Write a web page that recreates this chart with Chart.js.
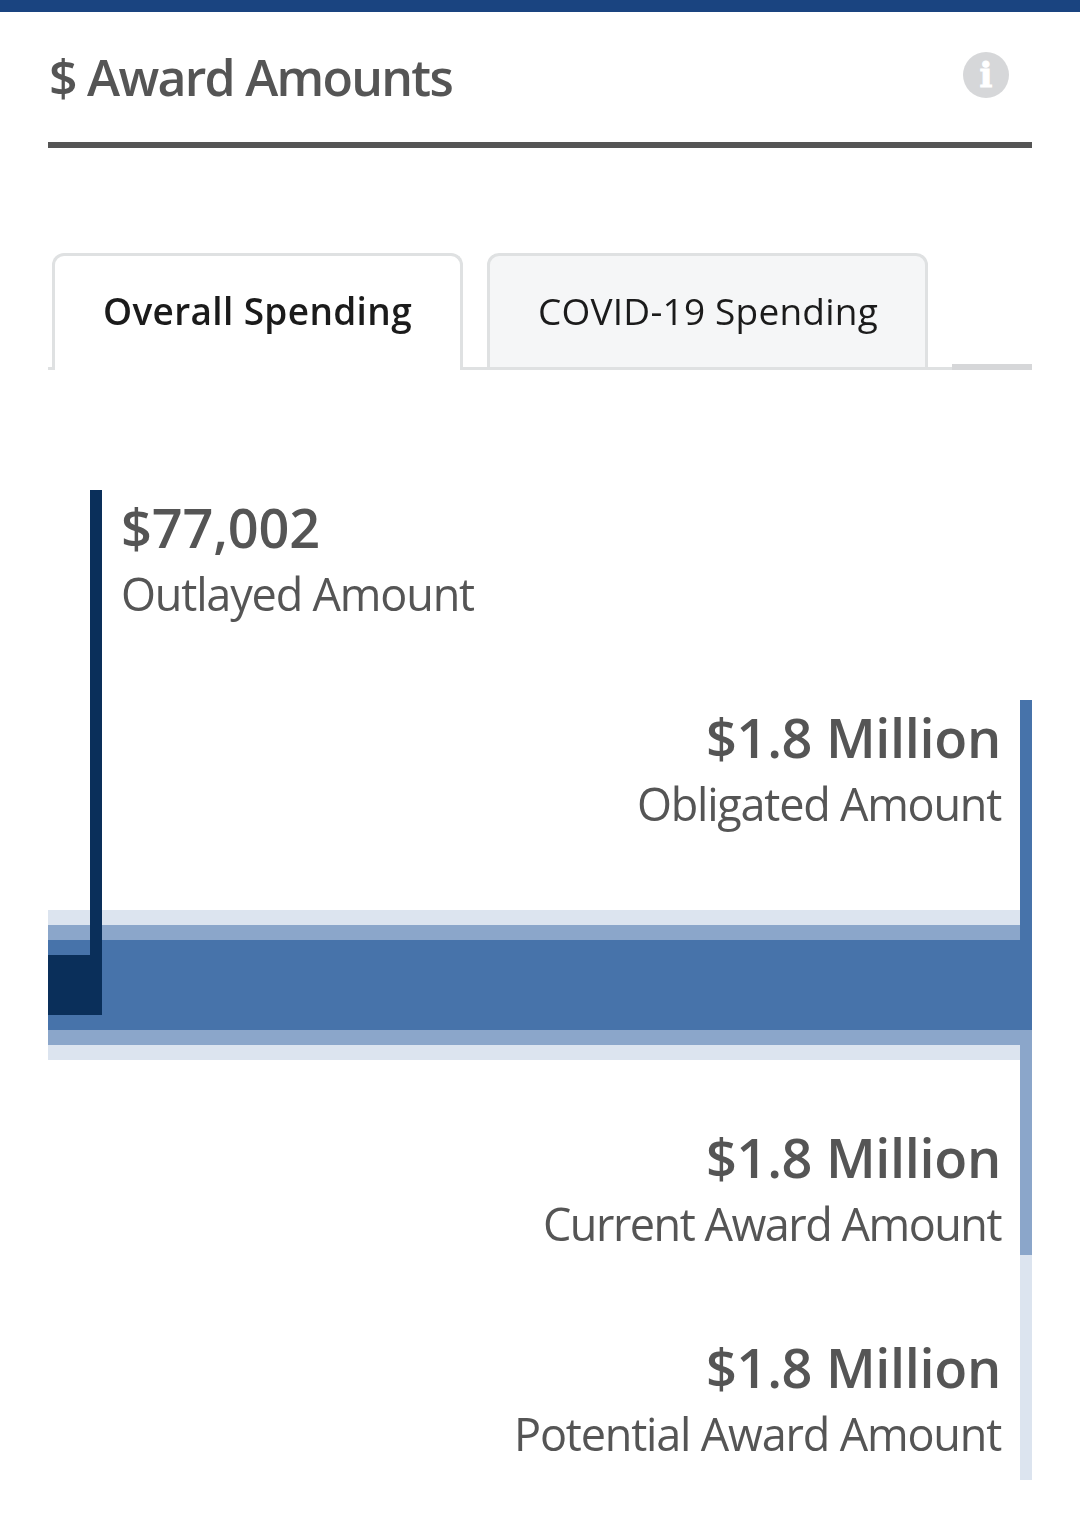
<!DOCTYPE html>
<html>
<head>
<meta charset="utf-8">
<title>Award Amounts</title>
<script src="https://cdn.jsdelivr.net/npm/chart.js@4/dist/chart.umd.min.js"></script>
<style>
	html, body { margin: 0; padding: 0; background: #fff; width: 1080px; height: 1530px; overflow: hidden; }
	body { position: relative; font-family: "Open Sans", sans-serif; }
	#myChart { position: absolute; left: 0; top: 0; }
	.abs { position: absolute; box-sizing: border-box; white-space: nowrap; }
	#topbar { left: 0; top: 0; width: 1080px; height: 12px; background: #1a4480; }
	#title { left: 49px; top: 44px; font-size: 50px; line-height: 67px; font-weight: 600; color: #555; }
	#rule { left: 48px; top: 142px; width: 984px; height: 6px; background: #555; }
	#info { left: 963px; top: 52px; width: 46px; height: 46px; border-radius: 50%; background: #d6d7d9; color: #fff;
		font: bold 34px/46px "DejaVu Serif", serif; text-align: center; -webkit-text-stroke: 1px #fff; }
	.tab { top: 253px; height: 117px; border: 3px solid #dfe1e2; border-bottom: 0; border-radius: 12px 12px 0 0; }
	#tab1 { left: 52px; width: 411px; background: #fff; z-index: 2; }
	#tab2 { left: 487px; width: 441px; background: #f5f6f7; border-bottom: 3px solid #dfe1e2; }
	.tabtext { top: 286px; font-size: 37px; line-height: 49px; color: #1b1b1b; z-index: 3; }
	#t1 { left: 103px; font-weight: 600; }
	#t2 { left: 538px; font-weight: 400; }
	#line1 { left: 48px; top: 367px; width: 6px; height: 3px; background: #dfe1e2; }
	#line2 { left: 460px; top: 367px; width: 492px; height: 3px; background: #dfe1e2; }
	#line3 { left: 952px; top: 364px; width: 80px; height: 6px; background: #d6d7d9; }
</style>
</head>
<body>
<div class="abs" id="topbar"></div>
<div class="abs" id="title" data-w="403">$ Award Amounts</div>
<div class="abs" id="info">i</div>
<div class="abs" id="rule"></div>
<div class="abs tab" id="tab1"></div>
<div class="abs tab" id="tab2"></div>
<div class="abs tabtext" id="t1" data-w="309">Overall Spending</div>
<div class="abs tabtext" id="t2" data-w="340">COVID-19 Spending</div>
<div class="abs" id="line1"></div>
<div class="abs" id="line2"></div>
<div class="abs" id="line3"></div>
<canvas id="myChart" width="1080" height="1530"></canvas>

<script>
const categories = ['Award'];
const seriesNames = ['Outlayed Amount', 'Obligated Amount', 'Current Award Amount', 'Potential Award Amount'];
const seriesValues = [77002, 1800000, 1800000, 1800000];
const valueLabels = ['$77,002', '$1.8 Million', '$1.8 Million', '$1.8 Million'];

// looks of each series, same order as above
const barColors = ['#0a2f5a', '#4773aa', '#8ba6ca', '#dce4ef'];
const barHeights = [60, 90, 120, 150];

// leader line next to each bar, and the two text lines that go with it
const leaders = [
	{ top: 490, bottom: 1015, textX: 121, baseline: 548, valueW: 199, nameW: 353 },
	{ top: 700, bottom: 1030, textX: 1001, baseline: 758, valueW: 295, nameW: 364 },
	{ top: 1030, bottom: 1255, textX: 1001, baseline: 1178, valueW: 295, nameW: 458 },
	{ top: 1045, bottom: 1480, textX: 1001, baseline: 1388, valueW: 295, nameW: 487 }
];

// Open Sans is wider than the original face, so squeeze text to the measured width
function fitDom(el) {
	el.style.letterSpacing = '0px';
	const natural = el.getBoundingClientRect().width;
	el.style.letterSpacing = (el.dataset.w - natural) / el.textContent.length + 'px';
}
document.querySelectorAll('[data-w]').forEach(fitDom);

function drawFitted(ctx, text, font, width, x, y, rightAlign) {
	ctx.font = font;
	ctx.letterSpacing = '0px';
	const natural = ctx.measureText(text).width;
	ctx.letterSpacing = (width - natural) / text.length + 'px';
	ctx.textAlign = 'left';
	ctx.fillText(text, rightAlign ? x - width : x, y);
	ctx.letterSpacing = '0px';
}

const leaderPlugin = {
	id: 'leaderPlugin',
	afterDatasetsDraw(chart) {
		const ctx = chart.ctx;
		const x = chart.scales.x;
		ctx.save();
		// back to front so the stronger colours sit on top
		for (let i = seriesValues.length - 1; i >= 0; i--) {
			const l = leaders[i];
			const px = x.getPixelForValue(seriesValues[i]);
			const stemX = Math.round(px);
			const bar = chart.getDatasetMeta(i).data[0];
			ctx.fillStyle = barColors[i];
			// close the part-pixel gap between the bar end and its leader
			ctx.fillRect(Math.floor(px), bar.y - bar.height / 2, stemX - Math.floor(px), bar.height);
			ctx.fillRect(stemX, l.top, 12, l.bottom - l.top);
		}
		ctx.fillStyle = '#555';
		ctx.textBaseline = 'alphabetic';
		seriesNames.forEach((name, i) => {
			const l = leaders[i];
			const right = l.textX > 540;
			drawFitted(ctx, valueLabels[i], '600 54px "Open Sans"', l.valueW, l.textX, l.baseline, right);
			drawFitted(ctx, name, '400 45px "Open Sans"', l.nameW, l.textX, l.baseline + 63, right);
		});
		ctx.restore();
	}
};

const data = {
	labels: categories,
	datasets: seriesNames.map((name, i) => ({
		label: name,
		data: [seriesValues[i]],
		backgroundColor: barColors[i],
		barThickness: barHeights[i],
		inflateAmount: 0,
		grouped: false,
		order: i
	}))
};

const config = {
	type: 'bar',
	data,
	plugins: [leaderPlugin],
	options: {
		indexAxis: 'y',
		responsive: false,
		animation: false,
		layout: { padding: { left: 48, right: 60, top: 910, bottom: 470 } },
		plugins: { legend: { display: false }, tooltip: { enabled: false } },
		scales: {
			x: { display: false, min: 0, max: 1800000 },
			y: { display: false }
		}
	}
};

const myChart = new Chart(document.getElementById('myChart'), config);
</script>
</body>
</html>
